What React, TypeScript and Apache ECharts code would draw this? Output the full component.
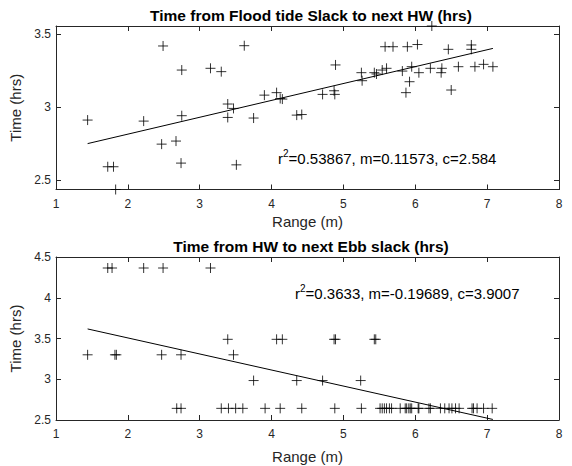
import React, { useEffect, useRef } from "react";
import * as echarts from "echarts";

// Top panel: Time from Flood tide Slack to next HW (hrs)
const floodX = [
  1.44, 1.72, 1.8, 1.83, 2.22, 2.47, 2.49, 2.67, 2.74, 2.75, 2.75, 3.15, 3.3, 3.39, 3.39, 3.47, 3.51, 3.62,
  3.75, 3.9, 4.07, 4.12, 4.15, 4.35, 4.42, 4.71, 4.87, 4.88, 4.89, 5.25, 5.26, 5.43, 5.46, 5.54, 5.58, 5.6,
  5.69, 5.82, 5.87, 5.89, 5.92, 5.95, 6.03, 6.05, 6.21, 6.23, 6.36, 6.37, 6.46, 6.5, 6.6, 6.78, 6.78, 6.83,
  6.95, 7.08,
];
const floodY = [
  2.912, 2.592, 2.592, 2.436, 2.905, 2.747, 3.42, 2.768, 2.617, 2.942, 3.255, 3.267, 3.244, 3.022, 2.93, 2.992,
  2.605, 3.422, 2.926, 3.083, 3.1, 3.06, 3.056, 2.946, 2.95, 3.088, 3.113, 3.088, 3.29, 3.237, 3.182, 3.237,
  3.228, 3.255, 3.415, 3.267, 3.415, 3.248, 3.1, 3.415, 3.175, 3.278, 3.43, 3.237, 3.267, 3.557, 3.237, 3.267,
  3.397, 3.118, 3.278, 3.427, 3.397, 3.278, 3.294, 3.278,
];
const floodFit = { m: 0.11573, c: 2.584, x0: 1.44, x1: 7.08 };
const floodNote = ["r", "2", "=0.53867, m=0.11573, c=2.584"];

// Bottom panel: Time from HW to next Ebb slack (hrs)
const ebbX = [
  1.44, 1.72, 1.78, 1.82, 1.84, 2.22, 2.47, 2.49, 2.68, 2.74, 2.74, 3.15, 3.3, 3.39, 3.4, 3.47, 3.5, 3.6, 3.75,
  3.91, 4.07, 4.15, 4.12, 4.35, 4.42, 4.71, 4.87, 4.89, 4.88, 5.24, 5.25, 5.43, 5.45, 5.51, 5.54, 5.57, 5.6,
  5.64, 5.67, 5.79, 5.86, 5.88, 5.91, 5.93, 5.95, 6.04, 6.05, 6.19, 6.21, 6.35, 6.41, 6.47, 6.51, 6.56, 6.61,
  6.79, 6.81, 6.86, 6.95, 7.07,
];
const ebbY = [
  3.3, 4.365, 4.365, 3.3, 3.3, 4.365, 3.3, 4.365, 2.643, 2.643, 3.3, 4.365, 2.643, 3.49, 2.643, 3.3, 2.643,
  2.643, 2.984, 2.643, 3.49, 3.49, 2.643, 2.984, 2.643, 2.984, 3.49, 3.49, 2.643, 2.984, 2.643, 3.49, 3.49,
  2.643, 2.643, 2.643, 2.643, 2.643, 2.643, 2.643, 2.643, 2.643, 2.643, 2.643, 2.643, 2.643, 2.643, 2.643,
  2.643, 2.643, 2.643, 2.643, 2.643, 2.643, 2.643, 2.643, 2.643, 2.643, 2.643, 2.643,
];
const ebbFit = { m: -0.19689, c: 3.9007, x0: 1.44, x1: 7.08 };
const ebbNote = ["r", "2", "=0.3633, m=-0.19689, c=3.9007"];

const floodYTicks = [2.5, 3, 3.5];
const ebbYTicks = [2.5, 3, 3.5, 4, 4.5];

const TXT = "#262626";
const FONT = "'Liberation Sans', Arial, sans-serif";
const PLUS = "path://M5,0L5,10M0,5L10,5";

function pairs(xs: number[], ys: number[]) {
  return xs.map((x, i) => [x, ys[i]]);
}
function fitLine(f: { m: number; c: number; x0: number; x1: number }) {
  return [
    [f.x0, f.m * f.x0 + f.c],
    [f.x1, f.m * f.x1 + f.c],
  ];
}
function note(parts: string[], x: number, y: number) {
  const base = { fill: "#000", fontFamily: FONT, verticalAlign: "middle" as const };
  return {
    type: "group",
    x,
    y,
    children: [
      { type: "text", x: 0, y: 0, style: { ...base, text: parts[0], fontSize: 15 } },
      { type: "text", x: 5, y: -5, style: { ...base, text: parts[1], fontSize: 10 } },
      { type: "text", x: 10.6, y: 0, style: { ...base, text: parts[2], fontSize: 15 } },
    ],
  };
}

export default function App() {
  const ref = useRef<HTMLDivElement>(null);
  useEffect(() => {
    if (!ref.current) return;
    const chart = echarts.init(ref.current, undefined, { renderer: "svg" });
    const axisLine = { show: true, onZero: false, lineStyle: { color: TXT, width: 1 } };
    const tick = { show: true, inside: true, length: 5, lineStyle: { color: TXT } };
    const label = { color: TXT, fontSize: 12, fontFamily: FONT };
    const nameStyle = { color: TXT, fontSize: 15, fontFamily: FONT };
    const xBase = (grid: number, pos: "top" | "bottom", main: boolean, gap: number) => ({
      type: "value" as const,
      gridIndex: grid,
      position: pos,
      min: 1,
      max: 8,
      interval: 1,
      axisLine,
      axisTick: tick,
      axisLabel: main ? { ...label, margin: 8 } : { show: false },
      splitLine: { show: false },
      name: main ? "Range (m)" : "",
      nameLocation: "middle" as const,
      nameGap: gap,
      nameTextStyle: nameStyle,
    });
    const yBase = (grid: number, pos: "left" | "right", main: boolean, min: number, max: number, ticks: number[]) => ({
      type: "value" as const,
      gridIndex: grid,
      position: pos,
      min,
      max,
      axisLine,
      axisTick: { ...tick, customValues: ticks },
      axisLabel: main ? { ...label, margin: 5, customValues: ticks } : { show: false, customValues: ticks },
      splitLine: { show: false },
      name: main ? "Time (hrs)" : "",
      nameLocation: "middle" as const,
      nameGap: 30,
      nameTextStyle: nameStyle,
    });
    const scatterStyle = {
      type: "scatter" as const,
      symbol: PLUS,
      symbolSize: 10,
      clip: false,
      itemStyle: { color: "rgba(0,0,0,0)", borderColor: "#000", borderWidth: 1 },
    };
    const lineStyle = {
      type: "line" as const,
      symbol: "none",
      lineStyle: { color: "#000", width: 1 },
    };
    chart.setOption({
      animation: false,
      backgroundColor: "#fff",
      title: [
        {
          text: "Time from Flood tide Slack to next HW (hrs)",
          left: 306,
          top: 2,
          textAlign: "center",
          textStyle: { color: "#000", fontSize: 15.5, fontWeight: "bold", fontFamily: FONT },
        },
        {
          text: "Time from HW to next Ebb slack (hrs)",
          left: 306,
          top: 233,
          textAlign: "center",
          textStyle: { color: "#000", fontSize: 15.5, fontWeight: "bold", fontFamily: FONT },
        },
      ],
      grid: [
        { left: 56, right: 13, top: 26, height: 163.5 },
        { left: 56, right: 13, top: 257, height: 163 },
      ],
      xAxis: [
        xBase(0, "bottom", true, 24),
        xBase(0, "top", false, 24),
        xBase(1, "bottom", true, 29),
        xBase(1, "top", false, 29),
      ],
      yAxis: [
        yBase(0, "left", true, 2.436, 3.557, floodYTicks),
        yBase(0, "right", false, 2.436, 3.557, floodYTicks),
        yBase(1, "left", true, 2.5, 4.5, ebbYTicks),
        yBase(1, "right", false, 2.5, 4.5, ebbYTicks),
      ],
      graphic: [note(floodNote, 278, 158), note(ebbNote, 295, 293)],
      series: [
        { ...scatterStyle, xAxisIndex: 0, yAxisIndex: 0, data: pairs(floodX, floodY) },
        { ...lineStyle, xAxisIndex: 0, yAxisIndex: 0, data: fitLine(floodFit) },
        { ...scatterStyle, xAxisIndex: 2, yAxisIndex: 2, data: pairs(ebbX, ebbY) },
        { ...lineStyle, xAxisIndex: 2, yAxisIndex: 2, data: fitLine(ebbFit) },
      ],
    });
    return () => chart.dispose();
  }, []);
  return (
    <div
      ref={ref}
      style={{ position: "fixed", left: 0, top: 0, width: 572, height: 466, background: "#fff" }}
    />
  );
}
